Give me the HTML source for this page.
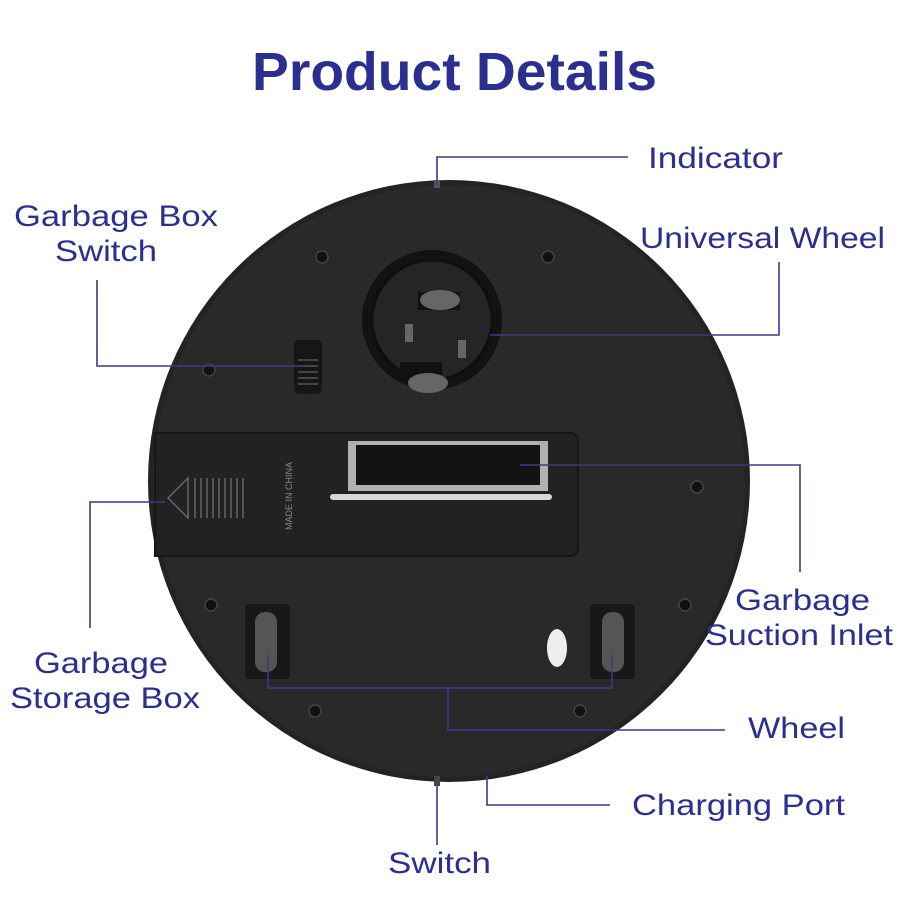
<!DOCTYPE html>
<html><head><meta charset="utf-8"><style>
html,body{margin:0;padding:0;background:#fff;}
svg{display:block}
text{font-family:"Liberation Sans",sans-serif;fill:#2b2f8f;}
</style></head><body>
<svg width="900" height="900" viewBox="0 0 900 900">
<text x="252" y="90" font-size="54" font-weight="bold" textLength="405" lengthAdjust="spacingAndGlyphs">Product Details</text>
<!-- body -->
<circle cx="449" cy="481" r="301" fill="#232323"/>
<circle cx="449" cy="481" r="296" fill="#292929"/>
<rect x="434" y="180" width="6" height="8" fill="#555"/>
<rect x="434" y="776" width="6" height="10" fill="#444"/>
<!-- screws -->
<g fill="#111" stroke="#444" stroke-width="1.5">
<circle cx="322" cy="257" r="6"/><circle cx="548" cy="257" r="6"/>
<circle cx="209" cy="370" r="6"/><circle cx="697" cy="487" r="6"/>
<circle cx="211" cy="605" r="6"/><circle cx="685" cy="605" r="6"/>
<circle cx="315" cy="711" r="6"/><circle cx="580" cy="711" r="6"/>
</g>
<!-- universal wheel -->
<circle cx="432" cy="320" r="70" fill="#121212"/>
<circle cx="432" cy="320" r="60" fill="#252525" stroke="#0e0e0e" stroke-width="3"/>
<rect x="418" y="292" width="42" height="18" fill="#111"/>
<ellipse cx="440" cy="300" rx="20" ry="10" fill="#666"/>
<rect x="400" y="362" width="42" height="18" fill="#111"/>
<ellipse cx="428" cy="383" rx="20" ry="10" fill="#666"/>
<rect x="405" y="324" width="8" height="18" fill="#666"/>
<rect x="458" y="340" width="8" height="18" fill="#666"/>
<!-- garbage box switch -->
<rect x="294" y="340" width="28" height="54" rx="5" fill="#161616"/>
<g stroke="#555" stroke-width="1.5"><line x1="298" y1="360" x2="318" y2="360"/><line x1="298" y1="366" x2="318" y2="366"/><line x1="298" y1="372" x2="318" y2="372"/><line x1="298" y1="378" x2="318" y2="378"/><line x1="298" y1="384" x2="318" y2="384"/></g>
<!-- storage box -->
<path d="M155 433 H570 Q578 433 578 441 V548 Q578 556 570 556 H155 Z" fill="#222" stroke="#161616" stroke-width="2"/>
<polygon points="168,498 188,478 188,518" fill="none" stroke="#666" stroke-width="1.5"/>
<g stroke="#555" stroke-width="2"><line x1="195" y1="478" x2="195" y2="518"/><line x1="201" y1="478" x2="201" y2="518"/><line x1="207" y1="478" x2="207" y2="518"/><line x1="213" y1="478" x2="213" y2="518"/><line x1="219" y1="478" x2="219" y2="518"/><line x1="225" y1="478" x2="225" y2="518"/><line x1="231" y1="478" x2="231" y2="518"/><line x1="237" y1="478" x2="237" y2="518"/><line x1="243" y1="478" x2="243" y2="518"/></g>
<text x="0" y="0" font-size="9" style="fill:#888" transform="translate(292,530) rotate(-90)">MADE IN CHINA</text>
<rect x="348" y="441" width="200" height="50" fill="#b0b0b0"/>
<rect x="356" y="445" width="184" height="40" fill="#131313"/>
<rect x="330" y="494" width="222" height="6" rx="3" fill="#d8d8d8"/>
<!-- wheels -->
<rect x="245" y="604" width="45" height="75" rx="4" fill="#181818"/>
<rect x="255" y="612" width="22" height="60" rx="10" fill="#555"/>
<rect x="590" y="604" width="45" height="75" rx="4" fill="#181818"/>
<rect x="602" y="612" width="22" height="60" rx="10" fill="#555"/>
<ellipse cx="557" cy="648" rx="10" ry="19" fill="#eee"/>
<!-- leader lines -->
<g stroke="#3a3a8a" stroke-width="1.6" fill="none">
<polyline points="437,185 437,157 628,157"/>
<polyline points="490,335 779,335 779,262"/>
<polyline points="97,280 97,366 303,366"/>
<polyline points="520,465 800,465 800,572"/>
<polyline points="165,502 90,502 90,628"/>
<polyline points="268,655 268,688 612,688 612,655"/>
<polyline points="448,688 448,730 725,730"/>
<polyline points="487,776 487,805 610,805"/>
<line x1="437" y1="786" x2="437" y2="845"/>
</g>
<!-- labels -->
<g font-size="30" lengthAdjust="spacingAndGlyphs">
<text x="648" y="168" textLength="135" lengthAdjust="spacingAndGlyphs">Indicator</text>
<text x="640" y="248" textLength="245" lengthAdjust="spacingAndGlyphs">Universal Wheel</text>
<text x="14" y="226" textLength="204" lengthAdjust="spacingAndGlyphs">Garbage Box</text>
<text x="55" y="261" textLength="102" lengthAdjust="spacingAndGlyphs">Switch</text>
<text x="735" y="610" textLength="135" lengthAdjust="spacingAndGlyphs">Garbage</text>
<text x="705" y="645" textLength="188" lengthAdjust="spacingAndGlyphs">Suction Inlet</text>
<text x="34" y="673" textLength="134" lengthAdjust="spacingAndGlyphs">Garbage</text>
<text x="10" y="708" textLength="190" lengthAdjust="spacingAndGlyphs">Storage Box</text>
<text x="748" y="738" textLength="97" lengthAdjust="spacingAndGlyphs">Wheel</text>
<text x="632" y="815" textLength="213" lengthAdjust="spacingAndGlyphs">Charging Port</text>
<text x="388" y="873" textLength="103" lengthAdjust="spacingAndGlyphs">Switch</text>
</g>
</svg>
</body></html>
